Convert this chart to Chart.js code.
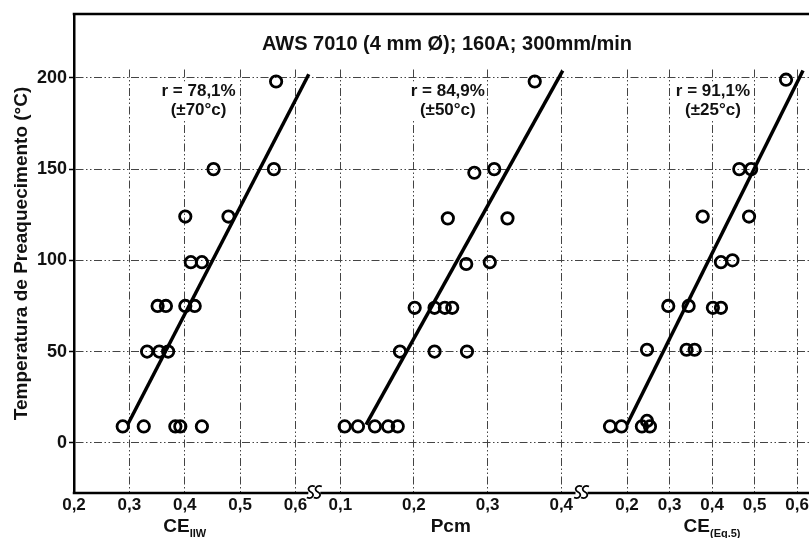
<!DOCTYPE html>
<html>
<head>
<meta charset="utf-8">
<script src="https://cdn.jsdelivr.net/npm/chart.js"></script>
<style>
  html, body { margin: 0; padding: 0; background: #fff; overflow: hidden; width: 809px; height: 538px; }
  #wrap { position: relative; width: 830px; height: 538px; }
</style>
</head>
<body>
<div id="wrap"><canvas id="chart"></canvas></div>
<script>
// temperatures (°C) and carbon equivalents
const tempIIW = [198, 150, 150, 124, 124, 99, 99, 75, 75, 75, 75, 50, 50, 50, 9, 9, 9, 9, 9];
const ceIIW = [0.565, 0.452, 0.561, 0.401, 0.479, 0.411, 0.431, 0.351, 0.366, 0.401, 0.418, 0.332, 0.354, 0.370, 0.288, 0.326, 0.383, 0.392, 0.431];

const tempPcm = [198, 148, 150, 123, 123, 98, 99, 74, 74, 74, 74, 50, 50, 50, 9, 9, 9, 9, 9];
const pcm = [0.364, 0.282, 0.309, 0.246, 0.327, 0.271, 0.303, 0.201, 0.228, 0.242, 0.252, 0.181, 0.228, 0.272, 0.106, 0.124, 0.147, 0.165, 0.178];

const tempEq5 = [199, 150, 150, 124, 124, 99, 100, 75, 75, 74, 74, 51, 51, 51, 9, 9, 9, 12, 9];
const ceEq5 = [0.574, 0.464, 0.492, 0.378, 0.487, 0.421, 0.448, 0.297, 0.345, 0.402, 0.421, 0.247, 0.340, 0.359, 0.160, 0.187, 0.235, 0.247, 0.254];

// regression lines (end points)
const fitIIWx = [0.297, 0.624];
const fitIIWy = [10, 202];
const fitPcmx = [0.135, 0.402];
const fitPcmy = [10, 204];
const fitEq5x = [0.200, 0.614];
const fitEq5y = [10, 204];

// tick labels
const yTicks = [0, 50, 100, 150, 200];
const xTicksIIW = [0.2, 0.3, 0.4, 0.5, 0.6];
const xTicksPcm = [0.1, 0.2, 0.3, 0.4];
const xTicksEq5 = [0.2, 0.3, 0.4, 0.5, 0.6];

// texts
const chartTitle = 'AWS 7010 (4 mm Ø); 160A; 300mm/min';
const yTitle = 'Temperatura de Preaquecimento (°C)';
const rLabels = ['r = 78,1%', 'r = 84,9%', 'r = 91,1%'];
const errLabels = ['(±70°c)', '(±50°c)', '(±25°c)'];
const xTitleMain = ['CE', 'Pcm', 'CE'];
const xTitleSub = ['IIW', '', '(Eq.5)'];

// layout of the broken x axis: each panel gets its own scale
const FONT = '"Liberation Sans", Arial, sans-serif';
const plotLeft = 74, plotWidth = 756;
const panels = [
  { id: 'x1', first: 0.2, firstPx: 74, pxPerUnit: 560 },
  { id: 'x2', first: 0.1, firstPx: 343.3, pxPerUnit: 745 },
  { id: 'x3', first: 0.2, firstPx: 633.3, pxPerUnit: 430 }
];
const breaks = [{ axis: 'x1', value: 0.634 }, { axis: 'x2', value: 0.4275 }];
const annX = [0.425, 0.246, 0.402];
const xTitleAt = [0.4, 0.25, 0.4];
const yMin = -27.5, yMax = 235;
const gridDash = [8, 2.5, 1.5, 2.5, 1.5, 2.5];

const toPoints = (xs, ys) => xs.map((x, i) => ({ x: x, y: ys[i] }));

function panelScale(p, ticks) {
  const min = p.first - (p.firstPx - plotLeft) / p.pxPerUnit;
  return {
    type: 'linear',
    position: { y: yMin },
    min: min,
    max: min + plotWidth / p.pxPerUnit,
    afterBuildTicks: axis => { axis.ticks = ticks.map(v => ({ value: v })); },
    border: { display: false, dash: gridDash },
    grid: { color: '#444', lineWidth: 1, drawTicks: false },
    ticks: {
      autoSkip: false, maxRotation: 0, minRotation: 0, padding: 2,
      color: '#111', font: { family: FONT, size: 17, weight: 'bold' },
      callback: v => v.toFixed(1).replace('.', ',')
    }
  };
}

function scatterSet(xs, ys, axis) {
  return {
    type: 'scatter', xAxisID: axis, yAxisID: 'y',
    data: toPoints(xs, ys),
    pointStyle: 'circle', pointRadius: 5.7, pointBorderWidth: 2.8,
    pointBorderColor: '#000', pointBackgroundColor: 'rgba(0,0,0,0)'
  };
}

function fitSet(xs, ys, axis) {
  return {
    type: 'line', xAxisID: axis, yAxisID: 'y',
    data: toPoints(xs, ys),
    borderColor: '#000', borderWidth: 3.5, pointRadius: 0, fill: false
  };
}

const decor = {
  id: 'decor',
  beforeDatasetsDraw(chart) {
    const { ctx, chartArea: a, scales } = chart;
    ctx.save();
    ctx.fillStyle = '#fff';
    // vertical grid stops just above the 200 line
    const yTop = scales.y.getPixelForValue(205);
    ctx.fillRect(a.left + 2, a.top + 1, a.right - a.left, yTop - a.top - 1);

    // correlation notes sit on a white box over the grid
    ctx.textAlign = 'center';
    ctx.textBaseline = 'middle';
    ctx.font = 'bold 17px ' + FONT;
    panels.forEach((p, i) => {
      const x = scales[p.id].getPixelForValue(annX[i]);
      const y1 = scales.y.getPixelForValue(192.5);
      const y2 = scales.y.getPixelForValue(182);
      const w = Math.max(ctx.measureText(rLabels[i]).width, ctx.measureText(errLabels[i]).width);
      ctx.fillStyle = '#fff';
      ctx.fillRect(x - w / 2 - 1, y1 - 10, w + 2, y2 - y1 + 20);
      ctx.fillStyle = '#111';
      ctx.fillText(rLabels[i], x, y1);
      ctx.fillText(errLabels[i], x, y2);
    });
    ctx.restore();
  },
  afterDraw(chart) {
    const { ctx, chartArea: a, scales } = chart;
    ctx.save();
    ctx.strokeStyle = '#000';
    ctx.fillStyle = '#111';

    // top frame
    ctx.lineWidth = 2.5;
    ctx.beginPath();
    ctx.moveTo(a.left - 1.25, a.top);
    ctx.lineTo(a.right, a.top);
    ctx.stroke();

    // bottom axis with break marks
    const yb = a.bottom;
    const bx = breaks.map(b => scales[b.axis].getPixelForValue(b.value));
    const segs = [[a.left - 1.25, bx[0] - 6], [bx[0] + 6, bx[1] - 6], [bx[1] + 6, a.right]];
    ctx.lineWidth = 2.3;
    ctx.beginPath();
    segs.forEach(s => { ctx.moveTo(s[0], yb); ctx.lineTo(s[1], yb); });
    ctx.stroke();
    ctx.lineWidth = 1.8;
    bx.forEach(x => {
      [-3.5, 3.5].forEach(dx => {
        const cx = x + dx, cy = yb - 1;
        ctx.beginPath();
        ctx.moveTo(cx + 4, cy - 5.5);
        ctx.bezierCurveTo(cx - 1, cy - 7.5, cx - 5, cy - 2.5, cx, cy);
        ctx.bezierCurveTo(cx + 5, cy + 2.5, cx + 1, cy + 7.5, cx - 4, cy + 5.5);
        ctx.stroke();
      });
    });

    // title
    ctx.textAlign = 'center';
    ctx.textBaseline = 'middle';
    ctx.font = 'bold 20px ' + FONT;
    ctx.fillText(chartTitle, 447, 44);

    // x axis titles with subscripts
    ctx.textAlign = 'left';
    ctx.textBaseline = 'alphabetic';
    panels.forEach((p, i) => {
      const cx = scales[p.id].getPixelForValue(xTitleAt[i]);
      ctx.font = 'bold 19px ' + FONT;
      const w1 = ctx.measureText(xTitleMain[i]).width;
      ctx.font = 'bold 11px ' + FONT;
      const w2 = xTitleSub[i] ? ctx.measureText(xTitleSub[i]).width : 0;
      const x0 = cx - (w1 + w2) / 2;
      ctx.font = 'bold 19px ' + FONT;
      ctx.fillText(xTitleMain[i], x0, 532);
      if (w2) {
        ctx.font = 'bold 11px ' + FONT;
        ctx.fillText(xTitleSub[i], x0 + w1, 537);
      }
    });
    ctx.restore();
  }
};

const scales = {
  y: {
    min: yMin, max: yMax,
    afterBuildTicks: axis => { axis.ticks = yTicks.map(v => ({ value: v })); },
    afterFit: s => { s.width = plotLeft; },
    border: { color: '#000', width: 2.5, dash: gridDash },
    grid: { color: '#444', lineWidth: 1, tickBorderDash: [], tickColor: '#000', tickWidth: 1.5, tickLength: 5 },
    ticks: { color: '#111', padding: 2, font: { family: FONT, size: 18, weight: 'bold' } },
    title: { display: true, text: yTitle, color: '#111', padding: { top: 10, bottom: 0 }, font: { family: FONT, size: 19, weight: 'bold' } }
  }
};
scales.x1 = panelScale(panels[0], xTicksIIW);
scales.x2 = panelScale(panels[1], xTicksPcm);
scales.x3 = panelScale(panels[2], xTicksEq5);

new Chart(document.getElementById('chart'), {
  data: {
    datasets: [
      scatterSet(ceIIW, tempIIW, 'x1'),
      scatterSet(pcm, tempPcm, 'x2'),
      scatterSet(ceEq5, tempEq5, 'x3'),
      fitSet(fitIIWx, fitIIWy, 'x1'),
      fitSet(fitPcmx, fitPcmy, 'x2'),
      fitSet(fitEq5x, fitEq5y, 'x3')
    ]
  },
  options: {
    responsive: true,
    maintainAspectRatio: false,
    animation: false,
    layout: { padding: { top: 14, bottom: 45, left: 0, right: 0 } },
    plugins: { legend: { display: false }, tooltip: { enabled: false } },
    scales: scales
  },
  plugins: [decor]
});
</script>
</body>
</html>
